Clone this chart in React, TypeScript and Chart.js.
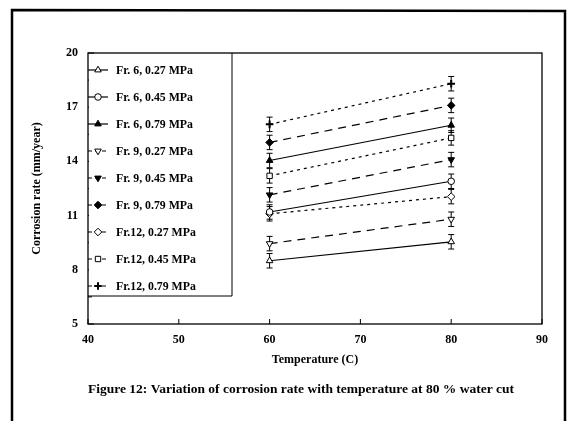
import React, { useEffect, useRef } from 'react';
import { Chart, registerables } from 'chart.js';
import { drawPoint } from 'chart.js/helpers';

Chart.register(...registerables);

// ---- data ----
const temperatures = [60, 80];
const fr6_027 = [8.5, 9.55];
const fr6_045 = [11.2, 12.9];
const fr6_079 = [14.05, 16.0];
const fr9_027 = [9.45, 10.8];
const fr9_045 = [12.15, 14.1];
const fr9_079 = [15.05, 17.1];
const fr12_027 = [11.1, 12.05];
const fr12_045 = [13.2, 15.3];
const fr12_079 = [16.05, 18.3];
const errorBar = [0.4, 0.4];
const seriesLabels = [
  'Fr. 6, 0.27 MPa',
  'Fr. 6, 0.45 MPa',
  'Fr. 6, 0.79 MPa',
  'Fr. 9, 0.27 MPa',
  'Fr. 9, 0.45 MPa',
  'Fr. 9, 0.79 MPa',
  'Fr.12, 0.27 MPa',
  'Fr.12, 0.45 MPa',
  'Fr.12, 0.79 MPa',
];
const seriesValues = [fr6_027, fr6_045, fr6_079, fr9_027, fr9_045, fr9_079, fr12_027, fr12_045, fr12_079];
const xTickValues = [40, 50, 60, 70, 80, 90];
const yTickValues = [5, 8, 11, 14, 17, 20];
const xTitle = 'Temperature (C)';
const yTitle = 'Corrosion rate (mm/year)';
const caption = 'Figure 12: Variation of corrosion rate with temperature at 80 % water cut';

// ---- styles ----
const SOLID: number[] = [];
const DASH = [8, 6];
const DOT = [3, 4];
const styles = [
  { pointStyle: 'triangle', rotation: 0, fill: false, dash: SOLID, radius: 3.8 },
  { pointStyle: 'circle', rotation: 0, fill: false, dash: SOLID, radius: 3.3 },
  { pointStyle: 'triangle', rotation: 0, fill: true, dash: SOLID, radius: 3.8 },
  { pointStyle: 'triangle', rotation: 180, fill: false, dash: DASH, radius: 3.8 },
  { pointStyle: 'triangle', rotation: 180, fill: true, dash: DASH, radius: 3.8 },
  { pointStyle: 'rectRot', rotation: 0, fill: true, dash: DASH, radius: 3.8 },
  { pointStyle: 'rectRot', rotation: 0, fill: false, dash: DOT, radius: 3.8 },
  { pointStyle: 'rect', rotation: 0, fill: false, dash: DOT, radius: 3.8 },
  { pointStyle: 'cross', rotation: 0, fill: true, dash: DOT, radius: 3.8 },
];

const FONT = 'Liberation Serif';

const decor = {
  id: 'decor',
  beforeDatasetsDraw(chart: any) {
    const { ctx, chartArea: a, scales } = chart;
    const x = scales.x;
    const y = scales.y;
    ctx.save();
    ctx.strokeStyle = '#000';
    ctx.setLineDash([]);
    // outer frame
    ctx.lineWidth = 2.5;
    ctx.beginPath();
    ctx.moveTo(12, 421);
    ctx.lineTo(12, 10);
    ctx.lineTo(565, 11);
    ctx.lineTo(565, 421);
    ctx.stroke();
    // plot box
    ctx.lineWidth = 1.3;
    ctx.strokeRect(a.left, a.top, a.right - a.left, a.bottom - a.top);
    // ticks
    ctx.lineWidth = 1;
    ctx.beginPath();
    xTickValues.forEach((v) => {
      const px = x.getPixelForValue(v);
      ctx.moveTo(px, a.bottom);
      ctx.lineTo(px, a.bottom - 5);
    });
    yTickValues.forEach((v, i) => {
      const py = y.getPixelForValue(v);
      ctx.moveTo(a.left, py);
      ctx.lineTo(a.left + 6, py);
      if (i < yTickValues.length - 1) {
        const pm = y.getPixelForValue((v + yTickValues[i + 1]) / 2);
        ctx.moveTo(a.left, pm);
        ctx.lineTo(a.left + 4, pm);
      }
    });
    ctx.stroke();
    // error bars
    ctx.lineWidth = 1;
    ctx.beginPath();
    seriesValues.forEach((vals) => {
      vals.forEach((v, j) => {
        const px = x.getPixelForValue(temperatures[j]);
        const t = y.getPixelForValue(v + errorBar[j]);
        const b = y.getPixelForValue(v - errorBar[j]);
        ctx.moveTo(px, t);
        ctx.lineTo(px, b);
        ctx.moveTo(px - 3, t);
        ctx.lineTo(px + 3, t);
        ctx.moveTo(px - 3, b);
        ctx.lineTo(px + 3, b);
      });
    });
    ctx.stroke();
    ctx.restore();
  },
  afterDatasetsDraw(chart: any) {
    const { ctx, chartArea: a } = chart;
    ctx.save();
    // legend box
    const lx0 = a.left;
    const ly0 = a.top;
    const lx1 = 232;
    const ly1 = 296;
    ctx.fillStyle = '#fff';
    ctx.fillRect(lx0 + 1, ly0 + 1, lx1 - lx0 - 1, ly1 - ly0 - 1);
    ctx.strokeStyle = '#000';
    ctx.lineWidth = 1;
    ctx.setLineDash([]);
    ctx.beginPath();
    ctx.moveTo(lx0, ly1);
    ctx.lineTo(lx1, ly1);
    ctx.lineTo(lx1, ly0);
    ctx.stroke();
    ctx.font = `bold 11.8px "${FONT}"`;
    ctx.textBaseline = 'middle';
    ctx.textAlign = 'left';
    seriesLabels.forEach((label, i) => {
      const st = styles[i];
      const yy = 70 + i * 27;
      ctx.strokeStyle = '#000';
      ctx.lineWidth = 1.2;
      ctx.setLineDash(st.dash.length ? [4, 3] : []);
      ctx.beginPath();
      ctx.moveTo(lx0, yy);
      ctx.lineTo(lx0 + 20, yy);
      ctx.stroke();
      ctx.setLineDash([]);
      ctx.fillStyle = st.fill ? '#000' : '#fff';
      ctx.strokeStyle = '#000';
      ctx.lineWidth = st.pointStyle === 'cross' ? 2 : 1;
      drawPoint(ctx, { pointStyle: st.pointStyle, rotation: st.rotation, radius: st.radius, borderWidth: ctx.lineWidth }, lx0 + 10, yy);
      ctx.fillStyle = '#000';
      ctx.fillText(label, lx0 + 28, yy + 1);
    });
    // axis titles
    ctx.fillStyle = '#000';
    ctx.textAlign = 'center';
    ctx.font = `bold 12px "${FONT}"`;
    ctx.fillText(xTitle, (a.left + a.right) / 2, 360);
    ctx.save();
    ctx.translate(37, (a.top + a.bottom) / 2);
    ctx.rotate(-Math.PI / 2);
    ctx.fillText(yTitle, 0, 0);
    ctx.restore();
    // caption
    ctx.font = `bold 13.5px "${FONT}"`;
    ctx.fillText(caption, 301, 390);
    ctx.restore();
  },
};

export default function App() {
  const ref = useRef<HTMLCanvasElement | null>(null);
  useEffect(() => {
    document.body.style.margin = '0';
    const canvas = ref.current;
    if (!canvas) return;
    const datasets = seriesValues.map((vals, i) => {
      const st = styles[i];
      return {
        label: seriesLabels[i],
        data: vals.map((v, j) => ({ x: temperatures[j], y: v })),
        borderColor: '#000',
        borderWidth: 1.2,
        borderDash: st.dash,
        backgroundColor: st.fill ? '#000' : '#fff',
        pointStyle: st.pointStyle as any,
        pointRotation: st.rotation,
        pointRadius: st.radius,
        pointBorderWidth: st.pointStyle === 'cross' ? 2 : 1,
        pointBorderColor: '#000',
        pointBackgroundColor: st.fill ? '#000' : '#fff',
        fill: false,
        tension: 0,
      };
    });
    const chart = new Chart(canvas, {
      type: 'line',
      data: { datasets },
      options: {
        animation: false,
        responsive: false,
        devicePixelRatio: 1,
        layout: { padding: { left: 0, top: 53, right: 26, bottom: 0 } },
        plugins: { legend: { display: false }, tooltip: { enabled: false }, title: { display: false } },
        scales: {
          x: {
            type: 'linear',
            min: 40,
            max: 90,
            afterFit: (s: any) => { s.height = 97; },
            afterBuildTicks: (s: any) => { s.ticks = xTickValues.map((v) => ({ value: v })); },
            grid: { display: false, drawTicks: false },
            border: { display: false },
            ticks: { color: '#000', padding: 9, font: { family: FONT, weight: 'bold', size: 12 } },
          },
          y: {
            type: 'linear',
            min: 5,
            max: 20,
            afterFit: (s: any) => { s.width = 88; },
            afterBuildTicks: (s: any) => { s.ticks = yTickValues.map((v) => ({ value: v })); },
            grid: { display: false, drawTicks: false },
            border: { display: false },
            ticks: { color: '#000', padding: 10, font: { family: FONT, weight: 'bold', size: 12 } },
          },
        },
      },
      plugins: [decor],
    });
    return () => chart.destroy();
  }, []);
  return <canvas ref={ref} width={568} height={421} style={{ display: 'block', width: 568, height: 421 }} />;
}
